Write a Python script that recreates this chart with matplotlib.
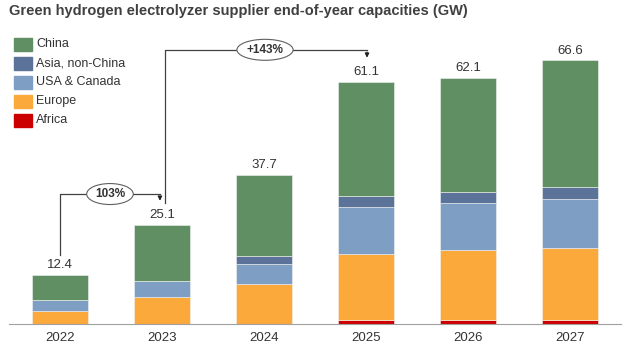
import numpy as np
import matplotlib.pyplot as plt
from matplotlib.patches import Rectangle

plt.rcParams['font.family'] = ['Liberation Sans', 'DejaVu Sans']

# Data (GW)
years = ['2022', '2023', '2024', '2025', '2026', '2027']
totals = [12.4, 25.1, 37.7, 61.1, 62.1, 66.6]
africa = [0.0, 0.0, 0.0, 1.1, 1.1, 1.1]
europe = [3.3, 6.7, 10.1, 16.6, 17.6, 18.1]
usa_canada = [2.8, 4.2, 5.0, 11.8, 11.8, 12.3]
asia_non_china = [0.0, 0.0, 2.0, 2.9, 2.9, 3.0]
china = [6.3, 14.2, 20.6, 28.7, 28.7, 32.1]

series = [('Africa', africa, '#cc0000'),
          ('Europe', europe, '#fba93b'),
          ('USA & Canada', usa_canada, '#7f9ec3'),
          ('Asia, non-China', asia_non_china, '#5b7399'),
          ('China', china, '#5f8f62')]

fig = plt.figure(figsize=(6.26, 3.47), dpi=100)
ax = fig.add_axes([9 / 626, 23 / 347, 612 / 626, 294 / 347])

x = np.arange(len(years))
bottom = np.zeros(len(years))
for name, vals, col in series:
    vals = np.array(vals)
    ax.bar(x, vals, 0.55, bottom=bottom, color=col, edgecolor='#f2f2f2',
           linewidth=0.4, label=name)
    bottom += vals

for xi, t in zip(x, totals):
    ax.text(xi, t + 0.9, f'{t:.1f}', ha='center', va='bottom', fontsize=9.5, color='#333333')

ax.set_xlim(-0.5, 5.5)
ax.set_ylim(0, 74.2)
ax.set_xticks(x)
ax.set_xticklabels(years, fontsize=9.5, color='#333333')
ax.tick_params(axis='x', length=0, pad=6)
ax.set_yticks([])
for s in ['top', 'right', 'left']:
    ax.spines[s].set_visible(False)
ax.spines['bottom'].set_color('#a0a0a0')

# growth brackets
line_kw = dict(color='#404040', lw=0.9)
ax.plot([0, 0, 0.98], [17.4, 32.8, 32.8], **line_kw)
ax.annotate('', xy=(0.98, 30.4), xytext=(0.98, 32.9),
            arrowprops=dict(arrowstyle='-|>', color='#202020', lw=0.9, mutation_scale=6))
ax.text(0.49, 32.8, '103%', ha='center', va='center', fontsize=8.5, fontweight='bold',
        color='#333333', bbox=dict(boxstyle='ellipse,pad=0.12', fc='white', ec='#606060', lw=0.8))

ax.plot([1.03, 1.03, 3.01], [30.6, 69.2, 69.2], **line_kw)
ax.annotate('', xy=(3.01, 66.5), xytext=(3.01, 69.3),
            arrowprops=dict(arrowstyle='-|>', color='#202020', lw=0.9, mutation_scale=6))
ax.text(2.01, 69.2, '+143%', ha='center', va='center', fontsize=8.5, fontweight='bold',
        color='#333333', bbox=dict(boxstyle='ellipse,pad=0.12', fc='white', ec='#606060', lw=0.8))

# legend
leg_items = [('China', '#5f8f62'), ('Asia, non-China', '#5b7399'),
             ('USA & Canada', '#7f9ec3'), ('Europe', '#fba93b'), ('Africa', '#cc0000')]
for i, (name, col) in enumerate(leg_items):
    yc = 1 - (44 + 19 * i) / 347
    fig.patches.append(Rectangle((14 / 626, yc - 6.5 / 347), 18 / 626, 13 / 347,
                                 transform=fig.transFigure, color=col))
    fig.text(36 / 626, yc, name, ha='left', va='center', fontsize=9, color='#333333')

fig.text(9 / 626, 1 - 11 / 347, 'Green hydrogen electrolyzer supplier end-of-year capacities (GW)',
         ha='left', va='center', fontsize=10.5, fontweight='bold', color='#404040')

fig.savefig('out.png', dpi=100)
